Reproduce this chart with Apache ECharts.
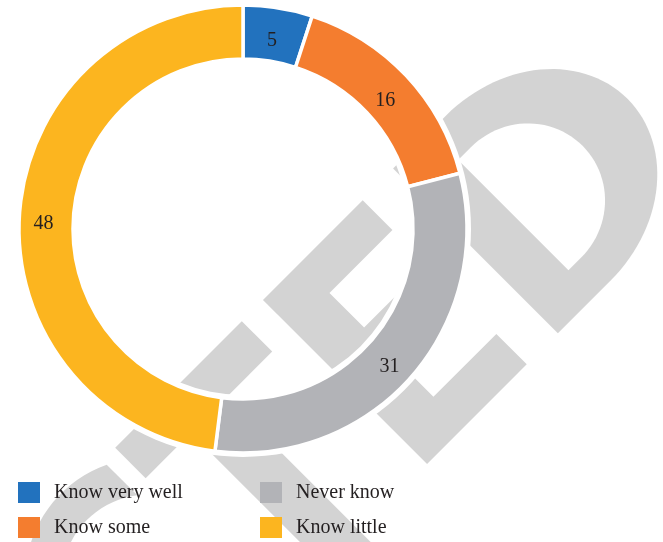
<!DOCTYPE html>
<html>
<head>
<meta charset="utf-8">
<script src="https://cdn.jsdelivr.net/npm/echarts@6/dist/echarts.min.js"></script>
<style>
  html, body { margin: 0; padding: 0; background: #ffffff; }
  #chart { width: 663px; height: 542px; }
</style>
</head>
<body>
<div id="chart"></div>
<script>
// Survey answers: how well respondents know the topic
const categories = ['Know very well', 'Know some', 'Never know', 'Know little'];
const values = [5, 16, 31, 48];
const sliceColors = ['#2272BE', '#F47D2F', '#B2B3B7', '#FCB51F'];
const legendLeftColumn = ['Know very well', 'Know some'];
const legendRightColumn = ['Never know', 'Know little'];

// Donut geometry (the value labels sit on a ring centred a little lower-left)
const CX = 243, CY = 229, R_IN = 170, R_OUT = 224;
const LABEL_CX = 241, LABEL_CY = 236, LABEL_R = [168, 222];

// Diagonal "RETRACTED" stamp behind the donut (only the tail of the word is in view).
// Letters are laid out in a local frame rotated 45 degrees, y pointing up.
const STAMP_GREY = '#D3D3D3';
function wm(x, y) {
  const s = Math.SQRT1_2;
  return [333 + (x - y) * s, 370 - (x + y) * s];
}
function poly(pts) { return pts.map(p => wm(p[0], p[1])); }
function rect(x0, y0, x1, y1) { return poly([[x0, y0], [x1, y0], [x1, y1], [x0, y1]]); }
function arc(cx, cy, rx, ry, a0, a1, n) {
  const out = [];
  for (let i = 0; i <= n; i++) {
    const a = (a0 + (a1 - a0) * i / n) * Math.PI / 180;
    out.push([cx + rx * Math.cos(a), cy + ry * Math.sin(a)]);
  }
  return out;
}

// C
const cCx = -280, cCy = -18, cRo = 123, cRi = 86, cCut = -227;
const aO = Math.acos((cCut - cCx) / cRo) * 180 / Math.PI;
const aI = Math.acos((cCut - cCx) / cRi) * 180 / Math.PI;
const letterC = poly(arc(cCx, cCy, cRo, cRo, aO, 360 - aO, 60).concat(arc(cCx, cCy, cRi, cRi, 360 - aI, aI, 60)));
// T
const letterTBar = rect(-209, 56, -30, 99);
const letterTStem = rect(-145, -170, -95, 56);
// E
const letterE = poly([[0, -133], [141, -133], [141, -90], [52, -90], [52, -32], [125, -32], [125, 8],
  [52, 8], [52, 57], [141, 57], [141, 99], [0, 99]]);
// D
const letterD = poly([[185, -133], [185, 100], [260, 100]].concat(arc(260, -16.5, 140, 116.5, 90, -90, 60)));
const letterDHole = poly([[237, -96], [237, 60], [255, 60]].concat(arc(255, -18, 80, 78, 90, -90, 50)));

const stamp = [letterC, letterTBar, letterTStem, letterE, letterD].map(pts => ({
  type: 'polygon', silent: true, z: 0,
  shape: { points: pts },
  style: { fill: STAMP_GREY }
}));
stamp.push({ type: 'polygon', silent: true, z: 0.5, shape: { points: letterDHole }, style: { fill: '#ffffff' } });
// white halo around the ring
stamp.push({ type: 'ring', silent: true, z: 1, shape: { cx: CX, cy: CY, r: R_OUT + 4, r0: R_IN - 4 }, style: { fill: '#ffffff' } });

const FONT = 'Liberation Serif';
const TEXT_COLOR = '#231F20';
const legendBase = {
  orient: 'vertical', top: 482, padding: 0,
  itemWidth: 22, itemHeight: 21, itemGap: 14, icon: 'rect',
  selectedMode: false,
  itemStyle: { borderWidth: 0 },
  textStyle: { fontFamily: FONT, fontSize: 20, color: TEXT_COLOR, padding: [2, 0, 0, 9] }
};

const pieData = categories.map((name, i) => ({ name: name, value: values[i], itemStyle: { color: sliceColors[i] } }));

const chart = echarts.init(document.getElementById('chart'), null, { renderer: 'canvas' });
chart.setOption({
  animation: false,
  backgroundColor: '#ffffff',
  graphic: { elements: stamp },
  legend: [
    Object.assign({}, legendBase, { left: 18, data: legendLeftColumn }),
    Object.assign({}, legendBase, { left: 260, data: legendRightColumn })
  ],
  series: [{
    // coloured slices
    type: 'pie',
    z: 2,
    center: [CX, CY],
    radius: [R_IN, R_OUT],
    startAngle: 90,
    clockwise: true,
    silent: true,
    itemStyle: { borderColor: '#ffffff', borderWidth: 3.5 },
    label: { show: false },
    labelLine: { show: false },
    data: pieData
  }, {
    // value labels for the same slices
    type: 'pie',
    z: 3,
    center: [LABEL_CX, LABEL_CY],
    radius: LABEL_R,
    startAngle: 90,
    clockwise: true,
    silent: true,
    avoidLabelOverlap: false,
    itemStyle: { color: 'rgba(0,0,0,0)', borderWidth: 0 },
    label: {
      show: true, position: 'inside', formatter: '{c}',
      color: TEXT_COLOR, fontFamily: FONT, fontSize: 20
    },
    labelLine: { show: false },
    data: categories.map((name, i) => ({ name: name, value: values[i] }))
  }]
});
</script>
</body>
</html>
